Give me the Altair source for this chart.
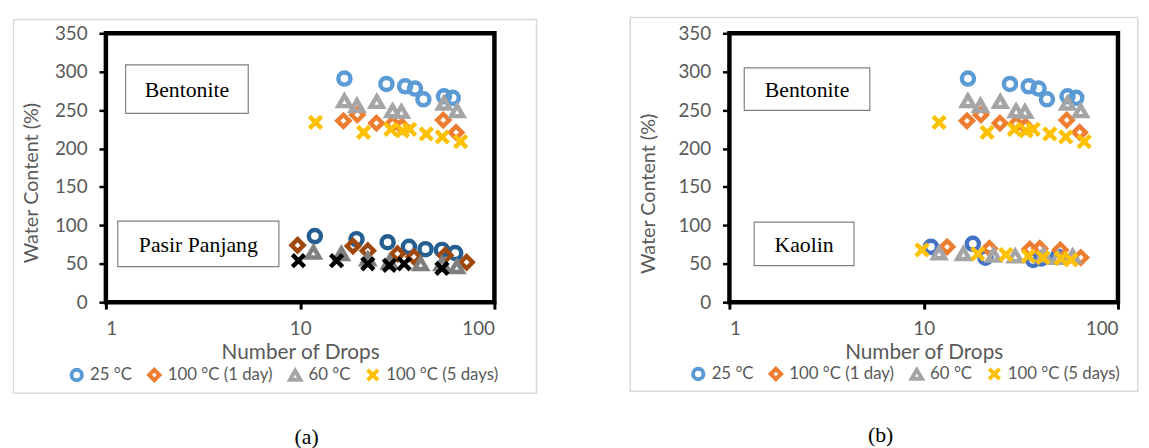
import altair as alt
import pandas as pd

labels = ["25 °C", "100 °C (1 day)", "60 °C", "100 °C (5 days)"]

# Bentonite (same data in both panels)
bent_25_x = [16.9, 27.8, 34.7, 39.0, 43.1, 55.0, 61.0]
bent_25_y = [291, 284, 281, 278, 264, 268, 266]
bent_1d_x = [16.7, 19.7, 24.7, 29.9, 33.4, 54.5, 63.5]
bent_1d_y = [236, 244, 233, 232, 229, 237, 221]
bent_60_x = [16.9, 19.6, 24.8, 29.9, 33.2, 55.0, 64.3]
bent_60_y = [262, 256, 261, 249, 248, 259, 249]
bent_5d_x = [12.0, 21.2, 29.3, 33.6, 36.6, 44.6, 53.9, 67.0]
bent_5d_y = [234, 221, 225, 223, 225, 219, 215, 209]

# Pasir Panjang
pp_25_x = [11.9, 19.5, 28.2, 36.3, 44.2, 53.7, 62.8]
pp_25_y = [86, 82, 78, 72, 69, 68, 64]
pp_1d_x = [9.7, 18.7, 22.3, 31.7, 38.5, 55.8, 71.9]
pp_1d_y = [74, 73, 67, 63, 59, 61, 52]
pp_60_x = [11.7, 16.3, 22.3, 28.8, 41.7, 53.7, 64.0]
pp_60_y = [65, 63, 56, 52, 50, 50, 46]
pp_5d_x = [9.8, 15.4, 22.3, 28.8, 34.3, 53.7]
pp_5d_y = [54, 54, 50, 48, 50, 44]

# Kaolin
ka_25_x = [10.9, 17.9, 20.8, 36.6, 40.3, 49.0]
ka_25_y = [72, 76, 58, 55, 57, 59]
ka_1d_x = [13.2, 21.8, 35.2, 39.6, 50.5, 64.4]
ka_1d_y = [72, 70, 69, 70, 68, 58]
ka_60_x = [12.0, 16.0, 22.9, 29.6, 41.5, 49.0, 58.4]
ka_60_y = [64, 63, 61, 60, 61, 58, 60]
ka_5d_x = [9.8, 19.0, 26.5, 34.6, 41.1, 51.0, 57.3]
ka_5d_y = [68, 63, 62, 60, 58, 57, 55]

X_PATH = "M-1,-1L1,1M1,-1L-1,1"
SHAPES4 = ["circle", "diamond", "triangle-up", X_PATH]
LIGHT = ["#5B9BD5", "#ED7D31", "#A5A5A5", "#FFC000"]
PP_COLORS = ["#255E91", "#9E480E", "#7F7F7F", "#000000"]
KA_COLORS = ["#4472C4", "#ED7D31", "#A5A5A5", "#FFC000"]

W, H = 393, 272
FONT = "Lato"
GREY = "#595959"
ONE = pd.DataFrame({"a": [1]})


def build_df(series_list):
    rows = []
    for key, xs, ys in series_list:
        for xv, yv in zip(xs, ys):
            rows.append({"N": xv, "W": yv, "series": key})
    return pd.DataFrame(rows)


def rect(x0, x1, y0, y1, stroke, sw, fill=None):
    kw = dict(stroke=stroke, strokeWidth=sw)
    if fill is None:
        kw["filled"] = False
    else:
        kw["fill"] = fill
    return alt.Chart(ONE).mark_rect(**kw).encode(
        x=alt.value(x0), x2=alt.value(x1), y=alt.value(y0), y2=alt.value(y1))


def text(x, y, s, size, font="Liberation Serif"):
    return alt.Chart(ONE).mark_text(font=font, fontSize=size, color="black",
                                    align="center", baseline="middle").encode(
        x=alt.value(x), y=alt.value(y), text=alt.value(s))


def panel(df, domain, colors, shapes, boxes, caption, leg_x, leg_y, ytx, yty, outer):
    legend = alt.Legend(values=labels, title=None, orient="none", legendX=leg_x, legendY=leg_y,
                        direction="horizontal", symbolSize=110, symbolStrokeWidth=4,
                        labelFont=FONT, labelFontSize=17, labelColor=GREY, labelOffset=5,
                        columnPadding=8.5, padding=0)
    pts = alt.Chart(df).mark_point(filled=False, size=150, strokeWidth=4.5, opacity=1).encode(
        x=alt.X("N:Q", scale=alt.Scale(type="log", domain=[1, 100], nice=False),
                axis=alt.Axis(values=[1, 10, 100], format="d", title="Number of Drops",
                              domain=False, grid=False, tickColor="black", tickWidth=3, tickSize=7,
                              labelPadding=11, labelFont=FONT, labelFontSize=19, labelColor=GREY,
                              titleFont=FONT, titleFontSize=21, titleColor=GREY, titleFontWeight="normal",
                              titleY=51, titleBaseline="middle")),
        y=alt.Y("W:Q", scale=alt.Scale(domain=[0, 350], nice=False),
                axis=alt.Axis(values=[0, 50, 100, 150, 200, 250, 300, 350], title="Water Content (%)",
                              domain=False, grid=False, tickColor="black", tickWidth=2.5, tickSize=7,
                              labelPadding=12, labelFont=FONT, labelFontSize=19, labelColor=GREY,
                              titleFont=FONT, titleFontSize=20, titleColor=GREY, titleFontWeight="normal",
                              titleX=ytx, titleY=yty, titleBaseline="middle")),
        color=alt.Color("series:N", scale=alt.Scale(domain=domain, range=colors), legend=legend),
        shape=alt.Shape("series:N", scale=alt.Scale(domain=domain, range=shapes), legend=legend),
    )
    layers = [rect(outer[0], outer[1], outer[2], outer[3], "#D9D9D9", 1.5)]
    for (bx0, bx1, by0, by1, s) in boxes:
        layers.append(rect(bx0, bx1, by0, by1, "#808080", 1.2, fill="white"))
        layers.append(text((bx0 + bx1) / 2, (by0 + by1) / 2 + 1, s, 22))
    layers.append(text(caption[0], caption[1], caption[2], 22, font="Liberation Serif"))
    layers.append(pts)
    return alt.layer(*layers).properties(width=W, height=H)


keys_a = labels + ["PP " + l for l in labels]
df_a = build_df([
    (labels[0], bent_25_x, bent_25_y), (labels[1], bent_1d_x, bent_1d_y),
    (labels[2], bent_60_x, bent_60_y), (labels[3], bent_5d_x, bent_5d_y),
    (keys_a[4], pp_25_x, pp_25_y), (keys_a[5], pp_1d_x, pp_1d_y),
    (keys_a[6], pp_60_x, pp_60_y), (keys_a[7], pp_5d_x, pp_5d_y),
])
keys_b = labels + ["K " + l for l in labels]
df_b = build_df([
    (labels[0], bent_25_x, bent_25_y), (labels[1], bent_1d_x, bent_1d_y),
    (labels[2], bent_60_x, bent_60_y), (labels[3], bent_5d_x, bent_5d_y),
    (keys_b[4], ka_25_x, ka_25_y), (keys_b[5], ka_1d_x, ka_1d_y),
    (keys_b[6], ka_60_x, ka_60_y), (keys_b[7], ka_5d_x, ka_5d_y),
])

panel_a = panel(df_a, keys_a, LIGHT + PP_COLORS, SHAPES4 + SHAPES4,
                [(20, 144, 32, 81, "Bentonite"), (12, 175, 190, 236, "Pasir Panjang")],
                (203, 408, "(a)"), -38, 337, -75, 151,
                (-93.4, W + 42.6, -14, H + 92))
panel_b = panel(df_b, keys_b, LIGHT + KA_COLORS, SHAPES4 + SHAPES4,
                [(15, 142, 35, 78, "Bentonite"), (25, 126, 191, 235, "Kaolin")],
                (153, 406, "(b)"), -40, 336, -81.5, 162,
                (-100.3, W + 20, -16, H + 90))

chart = alt.hconcat(panel_a, panel_b, spacing=87.7).resolve_scale(
    color="independent", shape="independent"
).resolve_legend(color="independent", shape="independent").configure_view(
    stroke="black", strokeWidth=4.5
).properties(padding={"left": 2, "top": 4, "right": 0, "bottom": 0}, background="white")

chart.save("out.html", embed_options={"renderer": "svg", "actions": False})
